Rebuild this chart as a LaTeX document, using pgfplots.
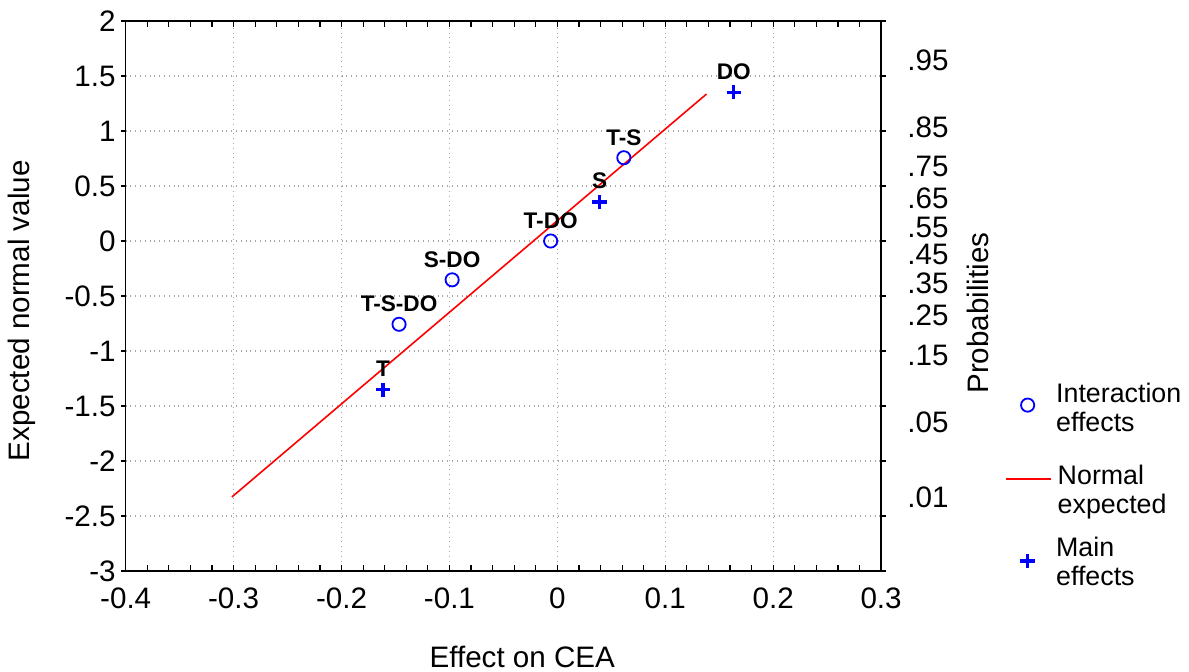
\documentclass[border=0pt]{standalone}
\usepackage{fontspec}
\setmainfont{Liberation Sans}
\usepackage{pgfplots}
\pgfplotsset{compat=1.18}
\usepackage{pgfplotstable}

\pgfplotstableread{
x y label
-0.1467 -0.757 T-S-DO
-0.0975 -0.353 S-DO
-0.0062 0 T-DO
0.0616 0.757 T-S
}\interaction
\pgfplotstableread{
x y label
-0.1615 -1.352 T
0.0392 0.353 S
0.1635 1.352 DO
}\maineff

\newcommand{\tfont}{\fontsize{14.8}{15.5}\selectfont}
\newcommand{\lfont}{\fontsize{13.4}{14.5}\selectfont}
\newcommand{\dfont}{\fontsize{11.3}{13}\selectfont\bfseries}

\pgfplotsset{
 markleg/.style={legend image code/.code={\path[draw=none,fill=none] (0pt,#1) -- (22.5pt,#1);\draw[mark repeat=2,mark phase=2,##1] plot coordinates {(0pt,#1) (11.25pt,#1) (22.5pt,#1)};}},
 lineleg/.style={legend image code/.code={\draw[##1] (0pt,#1) -- (22.5pt,#1);}},
 base/.style={scale only axis, width=377.7pt, height=275pt,
   xmin=-0.4, xmax=0.3, ymin=-3, ymax=2,
   tick style={black, line width=0.6pt},
   every tick label/.append style={font=\tfont}},
 legbox/.style={hide axis, legend style={at={(axis description cs:1.1642,#1)}, anchor=north west,
    draw=none, fill=none, inner sep=0pt, outer sep=0pt,
    /tikz/column sep=0pt, font=\lfont, legend cell align=left,
    /tikz/every odd column/.append style={column sep=1pt}}},
 circ/.style={only marks, blue, mark=o, mark size=3.3pt, line width=0.9pt},
 plus/.style={only marks, blue, mark=+, mark size=3.6pt, line width=1.7pt},
 dlab/.style={nodes near coords, point meta=explicit symbolic,
  every node near coord/.append style={font=\dfont, text=black, anchor=south, yshift=2.3pt}},
}

\begin{document}
\begin{tikzpicture}
% outward y ticks on both sides
\begin{axis}[base, tick align=outside, major tick length=2.2pt,
  ytick={-3,-2.5,-2,-1.5,-1,-0.5,0,0.5,1,1.5,2}, yticklabels={},
  ytick pos=both, xtick=\empty, axis line style={draw=none}]
\end{axis}
% probability labels on right
\begin{axis}[base, major tick length=0pt,
  ytick={1.645,1.036,0.674,0.385,0.126,-0.126,-0.385,-0.674,-1.036,-1.645,-2.326},
  yticklabels={.95,.85,.75,.65,.55,.45,.35,.25,.15,.05,.01},
  ytick pos=right, yticklabel pos=right, xtick=\empty, axis line style={draw=none},
  yticklabel style={xshift=9.6pt},
  ylabel={Probabilities},
  ylabel style={at={(axis description cs:1.128,0.469)}, anchor=center, font=\tfont}]
\end{axis}
% legend entries
\begin{axis}[base, legbox=0.3509]
\addlegendimage{circ, markleg=-1.75pt}
\addlegendentry{\begin{tabular}{@{}l@{}}Interaction\\effects\end{tabular}}
\end{axis}
\begin{axis}[base, legbox=0.2018]
\addlegendimage{red, line width=0.8pt, lineleg=2.25pt}
\addlegendentry{\begin{tabular}{@{}l@{}}Normal\\expected\end{tabular}}
\end{axis}
\begin{axis}[base, legbox=0.0709]
\addlegendimage{plus, markleg=-2.75pt}
\addlegendentry{\begin{tabular}{@{}l@{}}Main\\effects\end{tabular}}
\end{axis}
% main axis
\begin{axis}[base,
  axis line style={line width=0.8pt},
  tick align=inside, major tick length=3pt, minor tick length=3pt,
  xtick={-0.4,-0.3,-0.2,-0.1,0,0.1,0.2,0.3},
  xticklabels={-0.4,-0.3,-0.2,-0.1,0,0.1,0.2,0.3},
  minor x tick num=4,
  ytick={-3,-2.5,-2,-1.5,-1,-0.5,0,0.5,1,1.5,2},
  yticklabels={-3,-2.5,-2,-1.5,-1,-0.5,0,0.5,1,1.5,2},
  ytick style={draw=none},
  xmajorgrids, ymajorgrids,
  major grid style={dotted, black!35, line width=0.6pt},
  xticklabel style={yshift=-4.7pt},
  yticklabel style={xshift=-1.5pt},
  xlabel={Effect on CEA},
  xlabel style={at={(axis description cs:0.525,-0.156)}, anchor=center, font=\tfont},
  ylabel={Expected normal value},
  ylabel style={at={(axis description cs:-0.137,0.473)}, anchor=center, font=\tfont},
]
\coordinate (SW) at (rel axis cs:0,0);
\addplot[red, line width=0.8pt, no marks]
  coordinates {(-0.3016,-2.327) (0.1382,1.336)};
\addplot[circ, dlab] table[x=x, y=y, meta=label] {\interaction};
\addplot[plus, dlab] table[x=x, y=y, meta=label] {\maineff};
\end{axis}
\pgfresetboundingbox
\path[use as bounding box] (SW) ++(-62.85pt,-50pt) rectangle ++(594.5pt,335.5pt);
\end{tikzpicture}
\end{document}
